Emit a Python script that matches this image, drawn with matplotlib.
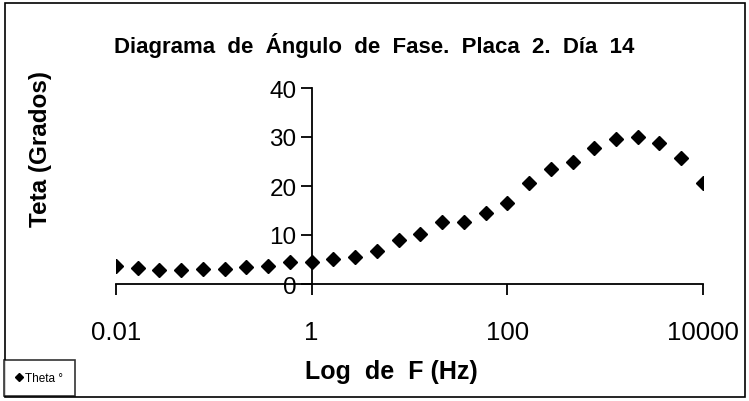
import matplotlib.pyplot as plt
from matplotlib.patches import Rectangle

# frecuencias (Hz) y angulo de fase (grados)
freq = [0.01, 0.0167, 0.0278, 0.0464, 0.0774, 0.129, 0.215, 0.359, 0.599,
        1.0, 1.67, 2.78, 4.64, 7.74, 12.9, 21.5, 35.9, 59.9,
        100, 167, 278, 464, 774, 1290, 2150, 3590, 5990, 10000]
theta = [3.7, 3.2, 2.9, 2.9, 3.1, 3.1, 3.4, 3.7, 4.4,
         4.4, 5.1, 5.6, 6.8, 9.0, 10.2, 12.7, 12.6, 14.5,
         16.5, 20.6, 23.5, 25.0, 27.7, 29.6, 30.1, 28.8, 25.8, 20.6]
xticks = [0.01, 1, 100, 10000]
xticklabels = ['0.01', '1', '100', '10000']
yticks = [0, 10, 20, 30, 40]

plt.rcParams['font.family'] = ['Liberation Sans', 'DejaVu Sans']

fig = plt.figure(figsize=(7.49, 4.02), dpi=100)
ax = fig.add_axes([116/749, 1-285/402, (703-116)/749, (285-89)/402])

ax.plot(freq, theta, 'D', color='black', markersize=7, label='Theta °')
ax.set_xscale('log')
ax.set_xlim(0.01, 10000)
ax.set_ylim(0, 40)
ax.set_xticks(xticks)
ax.set_xticklabels(xticklabels)
ax.minorticks_off()
ax.set_yticks(yticks)

ax.spines['top'].set_visible(False)
ax.spines['right'].set_visible(False)
ax.spines['left'].set_position(('data', 1))
for s in ['left', 'bottom']:
    ax.spines[s].set_linewidth(1.3)
ax.tick_params(axis='both', direction='out', length=8, width=1.3)
ax.tick_params(axis='x', pad=18, labelsize=18.5)
ax.tick_params(axis='y', pad=3, labelsize=17.5)

fig.text(0.5, 0.887, 'Diagrama  de  Ángulo  de  Fase.  Placa  2.  Día  14',
         ha='center', va='center', fontsize=16, fontweight='bold')
fig.text(0.054, 0.63, 'Teta (Grados)', rotation=90, ha='center',
         va='center', fontsize=17.5, fontweight='bold')
fig.text(0.522, 0.075, 'Log  de  F (Hz)', ha='center', va='center',
         fontsize=18, fontweight='bold')

leg = fig.legend(loc='lower left', bbox_to_anchor=(4/749, 5/402),
                 fancybox=False, edgecolor='black', fontsize=8.5,
                 handlelength=0.5, handletextpad=0.3, borderpad=1.0,
                 borderaxespad=0, markerscale=0.6)
leg.get_frame().set_linewidth(1.2)

fig.patches.append(Rectangle((5/749, 4/402), 740/749, 394/402,
                             transform=fig.transFigure, fill=False,
                             edgecolor='black', linewidth=1.2))

fig.savefig('out.png', dpi=100)
